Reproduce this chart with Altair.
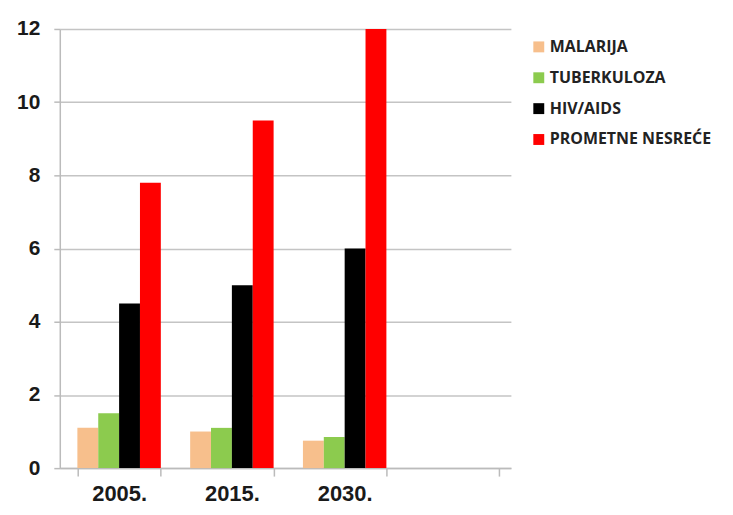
import altair as alt
import pandas as pd

years = ["2005.", "2015.", "2030."]
series = ["MALARIJA", "TUBERKULOZA", "HIV/AIDS", "PROMETNE NESREĆE"]
malarija = [1.1, 1.0, 0.75]
tuberkuloza = [1.5, 1.1, 0.85]
hiv_aids = [4.5, 5.0, 6.0]
prometne = [7.8, 9.5, 12.0]
colors = ["#F7BF8C", "#8CCB4E", "#000000", "#FF0000"]
y_ticks = [0, 2, 4, 6, 8, 10, 12]

rows = []
for s, vals in zip(series, [malarija, tuberkuloza, hiv_aids, prometne]):
    for yr, v in zip(years, vals):
        rows.append({"godina": yr, "serija": s, "vrijednost": v})
df = pd.DataFrame(rows)

x_domain = years + ["_"]

chart = alt.Chart(df).mark_bar().encode(
    x=alt.X("godina:N", sort=x_domain,
            scale=alt.Scale(domain=x_domain, paddingInner=0.26, paddingOuter=0.13,
                            align=0.6),
            axis=alt.Axis(title=None, labelAngle=0, tickBand="extent",
                          labelExpr="datum.value == '_' ? '' : datum.value",
                          labelFont="Liberation Sans", labelFontWeight="bold",
                          labelFontSize=22, labelColor="#1a1a1a", labelPadding=8,
                          tickSize=8, tickColor="#bbbbbb", domainColor="#bbbbbb",
                          domainWidth=1.5, tickWidth=1.5, grid=False)),
    xOffset=alt.XOffset("serija:N", sort=series, scale=alt.Scale(domain=series)),
    y=alt.Y("vrijednost:Q", scale=alt.Scale(domain=[0, 12], nice=False),
            axis=alt.Axis(title=None, values=y_ticks, labelFont="Liberation Sans",
                          labelFontWeight="bold", labelFontSize=21,
                          labelColor="#1a1a1a", labelPadding=14, tickSize=6,
                          tickColor="#bbbbbb", domainColor="#bbbbbb",
                          domainWidth=1.5, tickWidth=1.5,
                          gridColor="#c4c4c4", gridWidth=1.5)),
    color=alt.Color("serija:N", sort=series,
                    scale=alt.Scale(domain=series, range=colors),
                    legend=alt.Legend(title=None, orient="none", legendX=473,
                                      legendY=10, symbolType="square",
                                      symbolSize=120, symbolStrokeWidth=0,
                                      labelFont="Open Sans", labelFontSize=16,
                                      labelFontWeight="bold", labelLimit=0,
                                      labelColor="#222222", rowPadding=15,
                                      labelOffset=3)),
).properties(
    width=453, height=441,
    background="white",
    padding={"left": 52, "top": 20, "right": 215, "bottom": 40},
    autosize=alt.AutoSizeParams(type="none"),
).configure_view(stroke=None, strokeWidth=0)

chart.save("out.html", embed_options={"renderer": "svg", "actions": False})
